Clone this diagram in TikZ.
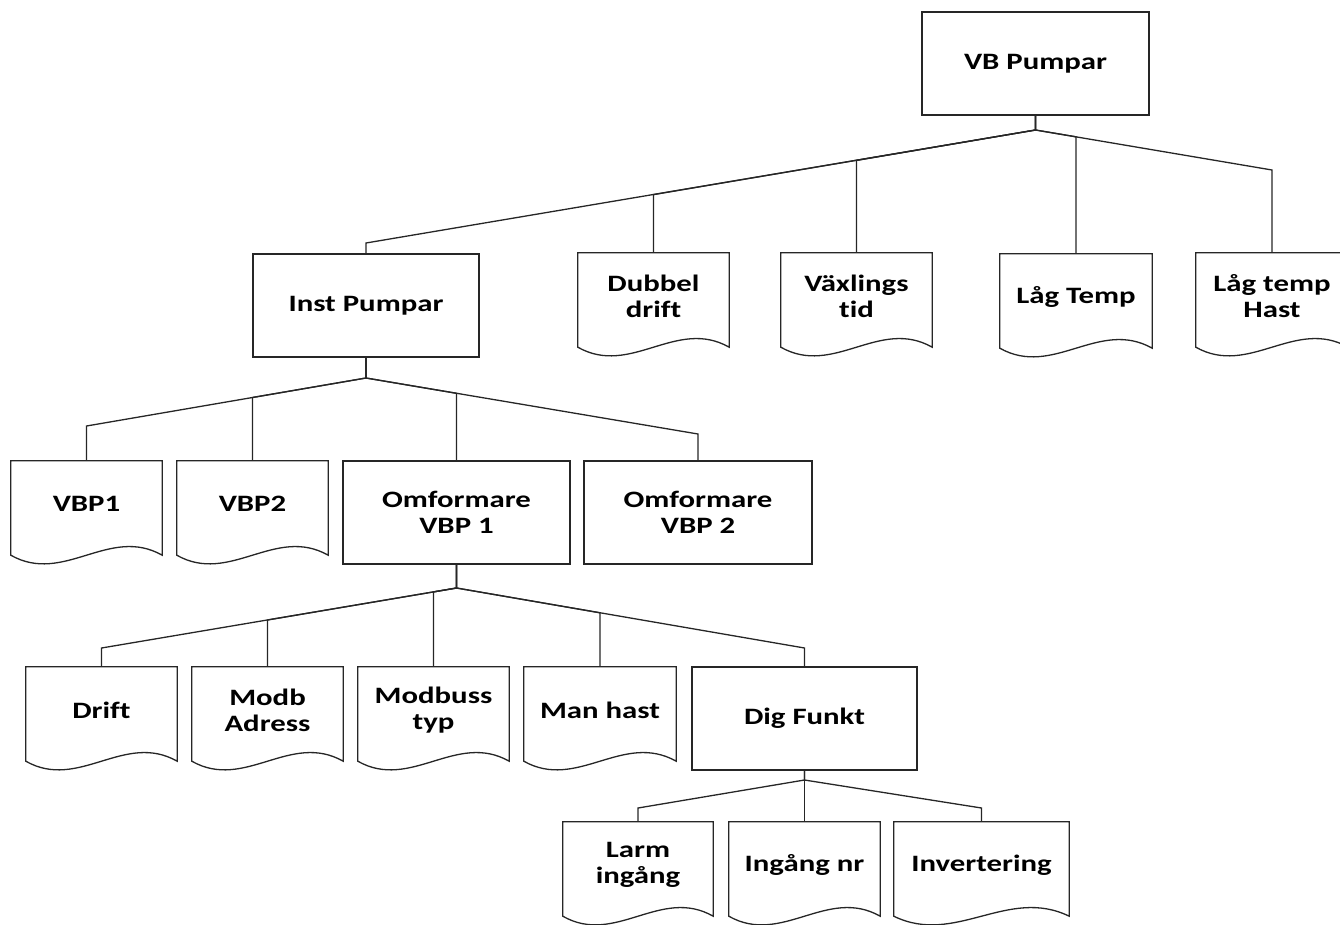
\documentclass[tikz,border=0pt]{standalone}
\usepackage{fontspec}
\setmainfont{Carlito}[FakeStretch=1.31, Ligatures=NoCommon]
\usetikzlibrary{calc}
\tikzset{
  fs/.style={font=\bfseries\fontsize{23.5}{26}\selectfont, text=black},
  box/.style={fs, draw=black!85, line width=1.4pt, minimum width=227pt, minimum height=103pt, inner sep=0pt, align=center},
  doc/.style={fs, minimum width=151pt, minimum height=86pt, inner sep=0pt, align=center},
  docline/.style={draw=black!85, line width=1.3pt, line join=miter},
  conn/.style={draw=black!85, line width=1.3pt}
}
\begin{document}
\begin{tikzpicture}[x=1pt,y=-1pt]
\useasboundingbox (0,0) rectangle (1340,924);
% rectangles
\node[box] (vb) at (1035.5,63.5) {VB Pumpar};
\node[box, minimum width=226pt] (ip) at (366,305.5) {Inst Pumpar};
\node[box] (o1) at (456.5,512.5) {Omformare\\VBP 1};
\node[box, minimum width=228pt] (o2) at (698,512.5) {Omformare\\VBP 2};
\node[box, minimum width=225pt] (df) at (804.5,718.5) {Dig Funkt};
% documents
\node[doc] (dd) at (653.5,296) {Dubbel\\drift};
\node[doc] (vt) at (856.5,296) {Växlings\\tid};
\node[doc, minimum width=152pt] (lt) at (1076,297) {Låg Temp};
\node[doc, minimum width=152pt] (lh) at (1272,296) {Låg temp\\Hast};
\node[doc] (v1) at (86.5,504) {VBP1};
\node[doc] (v2) at (252.5,504) {VBP2};
\node[doc] (dr) at (101.5,710) {Drift};
\node[doc] (ma) at (267.5,710) {Modb\\Adress};
\node[doc] (mt) at (433.5,710) {Modbuss\\typ};
\node[doc, minimum width=152pt] (mh) at (600,710) {Man hast};
\node[doc, minimum width=150pt] (li) at (638,865) {Larm\\ingång};
\node[doc] (ig) at (804.5,865) {Ingång nr};
\node[doc, minimum width=175pt] (iv) at (981.5,865) {Invertering};
\foreach \n in {dd,vt,lt,lh,v1,v2,dr,ma,mt,mh,li,ig,iv}{
  \coordinate (R) at ($(\n.south east)+(0,8)$);
  \coordinate (L) at ($(\n.south west)+(0,8)$);
  \draw[docline] (\n.north west) -- (\n.north east) -- (R)
    .. controls ($(R)!0.35!(L)+(0,-30)$) and ($(R)!0.65!(L)+(0,30)$) .. (L) -- cycle;
}
% junctions and bends
\coordinate (j0) at (1035.5,130);
\coordinate (j1) at (366,378);
\coordinate (j2) at (456.5,588);
\coordinate (j3) at (804.5,780);
\coordinate (s-ip) at (366,243);
\coordinate (s-dd) at (653.5,194.6);
\coordinate (s-vt) at (856.5,160.4);
\coordinate (s-lt) at (1076,136.8);
\coordinate (s-lh) at (1272,170);
\coordinate (s-v1) at (86.5,426);
\coordinate (s-v2) at (252.5,397.5);
\coordinate (s-o1) at (456.5,393.3);
\coordinate (s-o2) at (698,434);
\coordinate (s-dr) at (101.5,648);
\coordinate (s-ma) at (267.5,620);
\coordinate (s-mt) at (433.5,591.9);
\coordinate (s-mh) at (600,612.8);
\coordinate (s-df) at (804.5,648);
\coordinate (s-li) at (638,808);
\coordinate (s-iv) at (981.5,808);
% connectors
\foreach \p/\j/\c in {vb/j0/ip, vb/j0/dd, vb/j0/vt, vb/j0/lt, vb/j0/lh,
                      ip/j1/v1, ip/j1/v2, ip/j1/o1, ip/j1/o2,
                      o1/j2/dr, o1/j2/ma, o1/j2/mt, o1/j2/mh, o1/j2/df,
                      df/j3/li, df/j3/iv}{
  \draw[conn] (\p.south) -- (\j) -- (s-\c) -- (\c.north);
}
\draw[conn] (df.south) -- (ig.north);
\end{tikzpicture}
\end{document}
